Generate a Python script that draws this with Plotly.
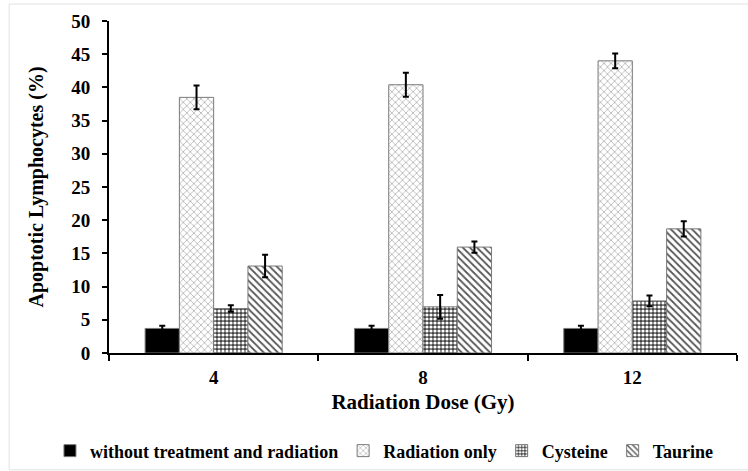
import plotly.graph_objects as go

doses = ["4", "8", "12"]
series_names = ["without treatment and radiation", "Radiation only", "Cysteine", "Taurine"]
control = [3.7, 3.7, 3.7]
control_err = [0.4, 0.4, 0.4]
radiation = [38.5, 40.4, 44.0]
radiation_err = [1.8, 1.8, 1.1]
cysteine = [6.7, 6.95, 7.85]
cysteine_err = [0.5, 1.8, 0.8]
taurine = [13.1, 15.95, 18.7]
taurine_err = [1.7, 0.85, 1.15]
y_ticks = [0, 5, 10, 15, 20, 25, 30, 35, 40, 45, 50]

FONT = "Liberation Serif, Times New Roman, serif"

values = [control, radiation, cysteine, taurine]
errors = [control_err, radiation_err, cysteine_err, taurine_err]
patterns = [
    dict(shape="", fgcolor="black", bgcolor="black"),
    dict(shape="x", fgcolor="#b4b4b4", bgcolor="white", size=5, solidity=0.3, fillmode="replace"),
    dict(shape=".", fgcolor="white", bgcolor="#444444", size=4, solidity=0.5, fillmode="replace"),
    dict(shape="\\", fgcolor="#555555", bgcolor="white", size=5, solidity=0.35, fillmode="replace"),
]
colors = ["black", "white", "white", "white"]

fig = go.Figure()
for name, v, e, p, c in zip(series_names, values, errors, patterns, colors):
    fig.add_trace(go.Bar(
        name=name, x=doses, y=v,
        marker=dict(color=c, line=dict(color="#7a7a7a", width=1), pattern=p),
        error_y=dict(type="data", array=e, visible=True, color="black", thickness=2, width=3),
    ))

fig.update_layout(
    width=748, height=471,
    margin=dict(l=109, r=11, t=21, b=118, autoexpand=False),
    paper_bgcolor="white", plot_bgcolor="white",
    barmode="group", bargap=0.345, bargroupgap=0.0,
    font=dict(family=FONT, color="black", weight="bold"),
    showlegend=True,
    legend=dict(orientation="h", xref="paper", yref="paper",
                x=-0.094, xanchor="left", y=-0.295, yanchor="middle",
                font=dict(family=FONT, size=18, color="black", weight="bold"),
                itemwidth=30, traceorder="normal"),
    xaxis=dict(
        type="category", showline=True, linecolor="black", linewidth=2,
        ticks="outside", ticklen=6, tickwidth=2, tickcolor="black",
        tickson="boundaries", showgrid=False, zeroline=False,
        tickfont=dict(family=FONT, size=19, color="black", weight="bold"),
        ticklabelstandoff=6,
        title=dict(text="Radiation Dose (Gy)", standoff=8,
                   font=dict(family=FONT, size=21, color="black", weight="bold")),
    ),
    yaxis=dict(
        range=[0, 50], tickvals=y_ticks, showline=True, linecolor="black", linewidth=2,
        ticks="outside", ticklen=5, tickwidth=2, tickcolor="black",
        showgrid=False, zeroline=False,
        tickfont=dict(family=FONT, size=19, color="black", weight="bold"),
        ticklabelstandoff=8,
        title=dict(text="Apoptotic Lymphocytes (%)", standoff=22,
                   font=dict(family=FONT, size=20, color="black", weight="bold")),
    ),
    shapes=[dict(type="rect", xref="paper", yref="paper",
                 x0=-0.159, x1=1.05, y0=-0.352, y1=1.051,
                 line=dict(color="#e2e2e2", width=1), layer="below")],
)

fig.write_html("out.html")
